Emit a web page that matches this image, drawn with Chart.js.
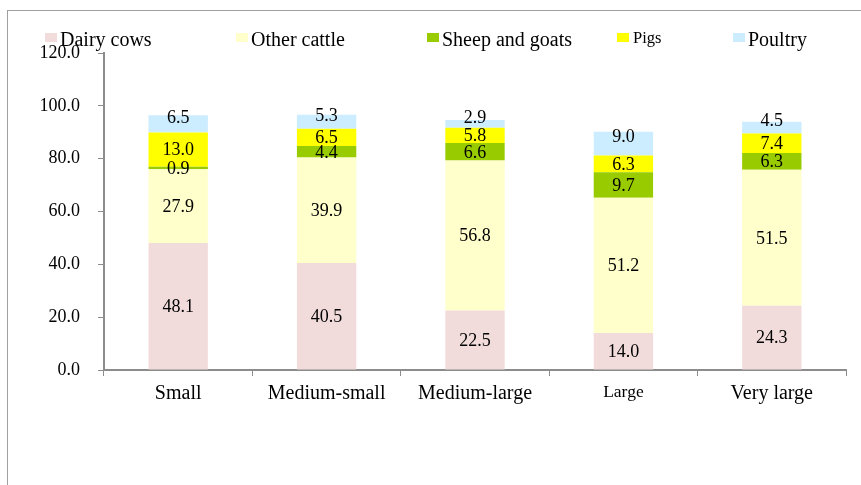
<!DOCTYPE html>
<html>
<head>
<meta charset="utf-8">
<script src="https://cdn.jsdelivr.net/npm/chart.js@4"></script>
<style>
  html, body { margin: 0; padding: 0; background: #fff; }
  #wrap { position: relative; width: 861px; height: 485px; overflow: hidden; }
  #frame { position: absolute; left: 7px; top: 10px; width: 900px; height: 520px; border: 1px solid #a0a0a0; }
  canvas { position: absolute; left: 0; top: 0; }
</style>
</head>
<body>
<div id="wrap">
  <div id="frame"></div>
  <canvas id="chart" width="861" height="485"></canvas>
</div>
<script>
// Data
const categories = ['Small', 'Medium-small', 'Medium-large', 'Large', 'Very large'];
const seriesNames = ['Dairy cows', 'Other cattle', 'Sheep and goats', 'Pigs', 'Poultry'];
const dairyCows   = [48.1, 40.5, 22.5, 14.0, 24.3];
const otherCattle = [27.9, 39.9, 56.8, 51.2, 51.5];
const sheepGoats  = [0.9, 4.4, 6.6, 9.7, 6.3];
const pigs        = [13.0, 6.5, 5.8, 6.3, 7.4];
const poultry     = [6.5, 5.3, 2.9, 9.0, 4.5];
const yMin = 0, yMax = 120, yStep = 20;

const colors = ['#F2DCDB', '#FFFFCC', '#99CC00', '#FFFF00', '#CCECFF'];
const serif = '"Liberation Serif", "Times New Roman", serif';
const axisGray = '#8c8c8c';

const datasets = [dairyCows, otherCattle, sheepGoats, pigs, poultry].map((vals, i) => ({
    label: seriesNames[i],
    data: vals,
    backgroundColor: colors[i],
    borderWidth: 0,
    barPercentage: 0.4,
    categoryPercentage: 1.0
}));

// Value labels centred in each segment (top series sits a little higher, as in the original)
const segmentLabels = {
    id: 'segmentLabels',
    afterDatasetsDraw(chart) {
        const ctx = chart.ctx;
        const lift = [0, 0, 0, 0, -7];
        ctx.save();
        ctx.font = '18px ' + serif;
        ctx.fillStyle = '#000';
        ctx.textAlign = 'center';
        ctx.textBaseline = 'middle';
        chart.data.datasets.forEach((ds, i) => {
            chart.getDatasetMeta(i).data.forEach((bar, j) => {
                const y = (bar.y + bar.base) / 2;
                ctx.fillText(ds.data[j].toFixed(1), bar.x, y + 1 + lift[i]);
            });
        });
        ctx.restore();
    }
};

// Legend spread across the top like the original
const topLegend = {
    id: 'topLegend',
    afterDraw(chart) {
        const ctx = chart.ctx;
        const xs = [45, 236, 427, 617, 733];
        ctx.save();
        ctx.textAlign = 'left';
        ctx.textBaseline = 'alphabetic';
        chart.data.datasets.forEach((ds, i) => {
            ctx.fillStyle = ds.backgroundColor;
            ctx.fillRect(xs[i], 33, 12, 9);
            ctx.fillStyle = '#000';
            if (i === 3) {
                ctx.font = '16.5px ' + serif;
                ctx.fillText(ds.label, xs[i] + 16, 43);
            } else {
                ctx.font = '20px ' + serif;
                ctx.fillText(ds.label, xs[i] + 15, 46);
            }
        });
        ctx.restore();
    }
};

new Chart(document.getElementById('chart'), {
    type: 'bar',
    data: { labels: categories, datasets: datasets },
    options: {
        responsive: false,
        animation: false,
        layout: { padding: { left: 0, right: 15, top: 53, bottom: 70 } },
        plugins: {
            legend: { display: false },
            tooltip: { enabled: false }
        },
        scales: {
            x: {
                stacked: true,
                afterFit: s => { s.height = 45; },
                grid: {
                    offset: true,
                    drawOnChartArea: false,
                    drawTicks: true,
                    tickLength: 6,
                    color: axisGray,
                    lineWidth: 1
                },
                border: { display: true, color: axisGray, width: 2 },
                ticks: {
                    color: '#000',
                    padding: 6,
                    font: c => ({ family: serif, size: c.index === 3 ? 17.5 : 20 })
                }
            },
            y: {
                stacked: true,
                min: yMin,
                max: yMax,
                afterFit: s => { s.width = 104; },
                grid: {
                    drawOnChartArea: false,
                    drawTicks: true,
                    tickLength: 6,
                    color: axisGray,
                    lineWidth: 1
                },
                border: { display: true, color: axisGray, width: 2 },
                ticks: {
                    stepSize: yStep,
                    color: '#000',
                    padding: 18,
                    font: { family: serif, size: 18 },
                    callback: v => Number(v).toFixed(1)
                }
            }
        }
    },
    plugins: [segmentLabels, topLegend]
});
</script>
</body>
</html>
